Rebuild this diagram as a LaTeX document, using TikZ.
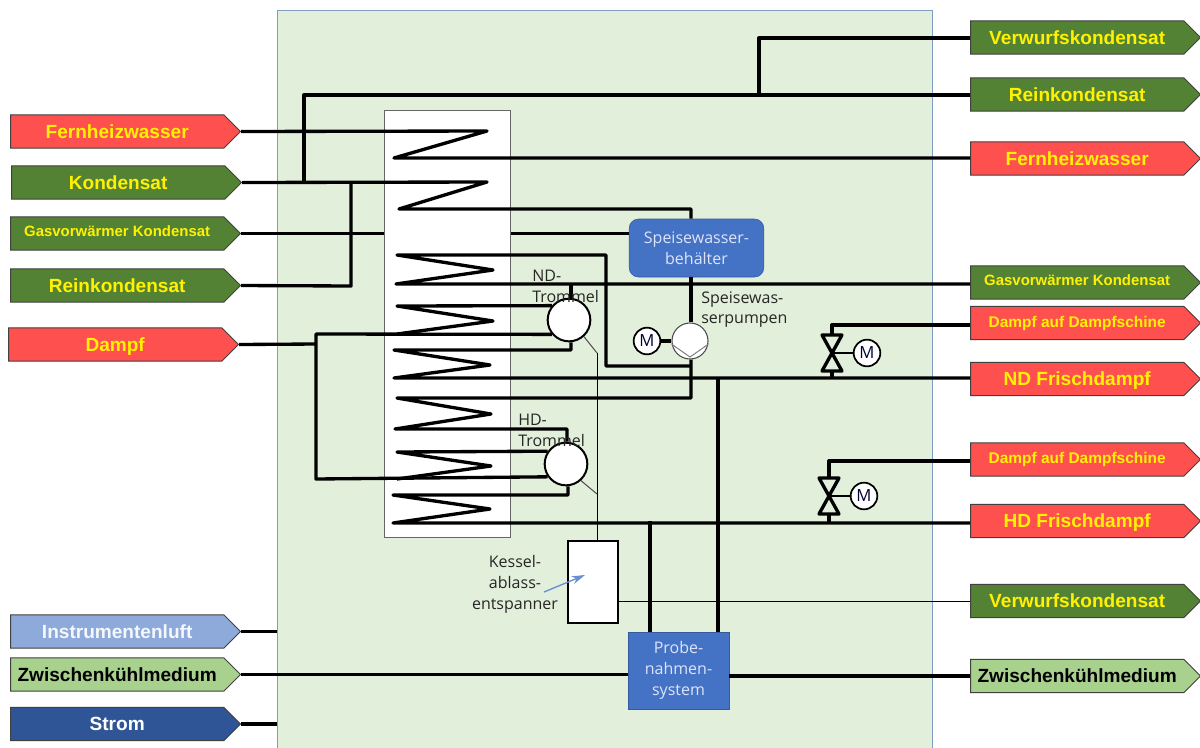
\documentclass[tikz,border=0pt]{standalone}
\usepackage{fontspec}
\setmainfont{Liberation Sans}
\newfontfamily\labelfont{Open Sans}
\usepackage{tikz}
\usetikzlibrary{shapes.symbols,arrows.meta}
\definecolor{panelgreen}{HTML}{E2EFDA}
\definecolor{panelline}{HTML}{7F9DBF}
\definecolor{tagred}{HTML}{FF5050}
\definecolor{taggreen}{HTML}{548235}
\definecolor{taglight}{HTML}{A9D18E}
\definecolor{tagblue}{HTML}{8EAADB}
\definecolor{tagdark}{HTML}{2F5597}
\definecolor{boxblue}{HTML}{4472C4}
\definecolor{boxtext}{HTML}{DDE4FA}
\tikzset{
    tag/.style={signal,signal to=east,signal pointer angle=90,draw=black!75,line width=.75pt,
        minimum width=172.5pt,minimum height=25pt,inner sep=0pt,anchor=west,text height=10pt,text depth=0pt,
        font=\fontsize{14.3pt}{16pt}\bfseries},
    redtag/.style={tag,fill=tagred,text=yellow},
    greentag/.style={tag,fill=taggreen,text=yellow},
    smalltag/.style={font=\fontsize{11.2pt}{12pt}\bfseries,text height=5pt},
    midtag/.style={font=\fontsize{11.6pt}{13pt}\bfseries,text height=6pt},
    pipe/.style={line width=2.5pt,line join=round},
    thinpipe/.style={line width=.75pt},
    drum/.style={circle,draw,fill=white,line width=1.5pt,minimum size=32pt,inner sep=0pt},
    motor/.style={circle,draw,fill=white,line width=1.3pt,minimum size=20pt,inner sep=0pt,
        font=\labelfont\fontsize{12.5pt}{14pt}\selectfont,text=black!80!blue},
    lbl/.style={font=\labelfont\fontsize{12pt}{15.7pt}\selectfont,text=black!85,align=left,inner sep=0pt},
    bluebox/.style={draw=boxblue!80!black,fill=boxblue,text=boxtext,align=center,inner sep=0pt,
        font=\labelfont\fontsize{12pt}{15.7pt}\selectfont}
}
\begin{document}
\begin{tikzpicture}[x=.75pt,y=-.75pt]
    \useasboundingbox (0,0) rectangle (1200,747);
    \node[draw=panelline,fill=panelgreen,line width=.75pt,minimum width=491.25pt,minimum height=570pt,
        inner sep=0pt,anchor=north west] (panel) at (277,10) {};
    \node[draw=black!60,fill=white,line width=.8pt,minimum width=94.5pt,minimum height=320pt,
        inner sep=0pt,anchor=north west] (heater) at (384,110) {};

    \node[redtag] (fernin) at (10,131.5) {Fernheizwasser};
    \node[greentag] (kondin) at (11,182.5) {Kondensat};
    \node[greentag,smalltag] (gasin) at (10,233.5) {Gasvorwärmer Kondensat};
    \node[greentag] (reinin) at (10,285.5) {Reinkondensat};
    \node[redtag] (dampfin) at (8,344.5) {Dampf};
    \node[tag,fill=tagblue,text=white!90!tagblue] (luft) at (10,631.5) {Instrumentenluft};
    \node[tag,fill=taglight,text=black] (zwin) at (10,674.5) {Zwischenkühlmedium};
    \node[tag,fill=tagdark,text=white] (strom) at (10,724) {Strom};

    \node[greentag] (verwout) at (970,37.5) {Verwurfskondensat};
    \node[greentag] (reinout) at (970,94.5) {Reinkondensat};
    \node[redtag] (fernout) at (970,158.5) {Fernheizwasser};
    \node[greentag,smalltag] (gasout) at (970,282.5) {Gasvorwärmer Kondensat};
    \node[redtag,midtag] (ddnd) at (970,323) {Dampf auf Dampfschine};
    \node[redtag] (ndout) at (970,379) {ND Frischdampf};
    \node[redtag,midtag] (ddhd) at (970,459.5) {Dampf auf Dampfschine};
    \node[redtag] (hdout) at (970,521) {HD Frischdampf};
    \node[greentag] (verwend) at (970,601) {Verwurfskondensat};
    \node[tag,fill=taglight,text=black] (zwout) at (970,676) {Zwischenkühlmedium};

    \node[bluebox,rounded corners=7pt,minimum width=101pt,minimum height=43.5pt] (tank) at (696.5,248) {Speisewasser-\\behälter};
    \node[bluebox,minimum width=75.75pt,minimum height=57.75pt] (probe) at (678.5,670.5) {Probe-\\nahmen-\\system};
    \node[draw,fill=white,line width=1.5pt,minimum width=37.5pt,minimum height=61.5pt,inner sep=0pt] (flash) at (593,582) {};
    \node[drum] (nd) at (569,320) {};
    \node[drum] (hd) at (566,464) {};
    \node[circle,draw=black!70,fill=white,line width=.8pt,minimum size=27pt,inner sep=0pt] (pump) at (690,341) {};
    \node[motor] (pm) at (647,341) {M};
    \node[motor] (mnd) at (867,353) {M};
    \node[motor] (mhd) at (864,496) {M};

    \coordinate (f1) at (487,131);
    \coordinate (f2) at (394,158);
    \coordinate (k1) at (487,182);
    \coordinate (k2) at (399,209);
    \coordinate (kt) at (691,209);
    \coordinate (r1) at (304,182);
    \coordinate (r2) at (304,95);
    \coordinate (r3) at (759,95);
    \coordinate (r4) at (759,38);
    \coordinate (i1) at (351,286);
    \coordinate (i2) at (351,182);
    \coordinate (a1) at (606,255);
    \coordinate (a2) at (397,255);
    \coordinate (a3) at (493,270);
    \coordinate (a4) at (396,284);
    \coordinate (a5) at (606,366);
    \coordinate (a6) at (691,366);
    \coordinate (a7) at (571,284);
    \coordinate (b1) at (397,306);
    \coordinate (b2) at (493,321);
    \coordinate (b3) at (397,334);
    \coordinate (d1) at (316,344);
    \coordinate (d2) at (316,334);
    \coordinate (d3) at (316,479);
    \coordinate (c1) at (571,350);
    \coordinate (c2) at (394,350);
    \coordinate (c3) at (490,365);
    \coordinate (c4) at (394,378);
    \coordinate (e1) at (691,398);
    \coordinate (e2) at (397,398);
    \coordinate (e3) at (491,414);
    \coordinate (e4) at (395,429);
    \coordinate (e5) at (567,429);
    \coordinate (g1) at (397,452);
    \coordinate (g2) at (491,466);
    \coordinate (g3) at (397,479);
    \coordinate (h1) at (568,495);
    \coordinate (h2) at (393,495);
    \coordinate (h3) at (490,509);
    \coordinate (h4) at (393,523);
    \coordinate (s1) at (650,521);
    \coordinate (s2) at (718,378);
    \coordinate (w1) at (597,353);
    \coordinate (w2) at (597,494);
    \coordinate (vnd) at (832,353);
    \coordinate (vnt) at (832,325);
    \coordinate (vnb) at (832,378);
    \coordinate (vhd) at (829,496);
    \coordinate (vht) at (829,461);
    \coordinate (vhb) at (829,523);
    \coordinate (ar) at (544,592);
    \coordinate (as) at (585,575);

    \draw[pipe] (fernin.east) -- (f1) -- (f2) -- (fernout.west |- f2);
    \draw[pipe] (kondin.east) -- (k1) -- (k2) -- (kt) -- (tank.north -| kt);
    \draw[pipe] (r1) -- (r2) -- (reinout.west |- r2);
    \draw[pipe] (r3) -- (r4) -- (verwout.west |- r4);
    \draw[pipe] (reinin.east) -- (i1) -- (i2);
    \draw[pipe] (gasin.east) -- (heater.west |- gasin.east);
    \draw[pipe] (heater.east |- gasin.east) -- (tank.west |- gasin.east);
    \draw[pipe] (a6) -- (a5) -- (a1) -- (a2) -- (a3) -- (a4) -- (gasout.west |- a4);
    \draw[pipe] (a7) -- (nd.north -| a7);
    \draw[pipe] (nd.140) -- (b1) -- (b2) -- (b3);
    \draw[pipe] (dampfin.east) -- (d1);
    \draw[pipe] (nd.220) -- (d2) -- (d3) -- (hd.215);
    \draw[pipe] (nd.south -| c1) -- (c1) -- (c2) -- (c3) -- (c4) -- (ndout.west |- c4);
    \draw[pipe] (tank.south -| kt) -- (pump.north -| kt);
    \draw[pipe] (pump.south -| kt) -- (e1) -- (e2) -- (e3) -- (e4) -- (e5) -- (hd.north -| e5);
    \draw[pipe] (hd.145) -- (g1) -- (g2) -- (g3);
    \draw[pipe] (hd.south -| h1) -- (h1) -- (h2) -- (h3) -- (h4) -- (hdout.west |- h4);
    \draw[line width=2.8pt] (s1) -- (probe.north -| s1);
    \draw[line width=2.8pt] (s2) -- (probe.north -| s2);
    \draw[pipe] (luft.east) -- (panel.west |- luft.east);
    \draw[pipe] (strom.east) -- (panel.west |- strom.east);
    \draw[pipe] (zwin.east) -- (probe.west |- zwin.east);
    \draw[pipe] (probe.east |- zwout.west) -- (zwout.west);
    \draw[thinpipe,black!70] (nd.-48) -- (w1);
    \draw[thinpipe] (w1) -- (flash.north -| w1);
    \draw[thinpipe,black!70] (hd.-48) -- (w2);
    \draw[thinpipe] (flash.east |- verwend.west) -- (verwend.west);

    \draw[thinpipe,black!50] (pump.190) -- (690,357) -- (pump.-10);
    \draw[pipe] (pm) -- (pump);
    \draw[pipe] (vnb) -- ++(0,-7);
    \draw[pipe] (vnt) ++(0,10) -- (vnt) -- (ddnd.west |- vnt);
    \draw[pipe] (vnd) ++(-10,-18) -- ++(20,0) -- ++(-20,36) -- ++(20,0) -- cycle;
    \draw[line width=1.3pt] (vnd) -- (mnd);
    \draw[pipe] (vhb) -- ++(0,-9);
    \draw[pipe] (vht) ++(0,17) -- (vht) -- (ddhd.west |- vht);
    \draw[pipe] (vhd) ++(-10,-18) -- ++(20,0) -- ++(-20,36) -- ++(20,0) -- cycle;
    \draw[line width=1.3pt] (vhd) -- (mhd);

    \node[lbl,anchor=north west] (ndlabel) at (532,270) {ND-\\Trommel};
    \node[lbl,anchor=north west] (hdlabel) at (518,414) {HD-\\Trommel};
    \node[lbl,anchor=north west] (pumplabel) at (701,291) {Speisewas-\\serpumpen};
    \node[lbl,align=center] (flashlabel) at (515,584) {Kessel-\\ablass-\\entspanner};
    \draw[-{Stealth[length=10pt,width=6pt]},boxblue!80,line width=1pt] (ar) -- (as);
\end{tikzpicture}
\end{document}
